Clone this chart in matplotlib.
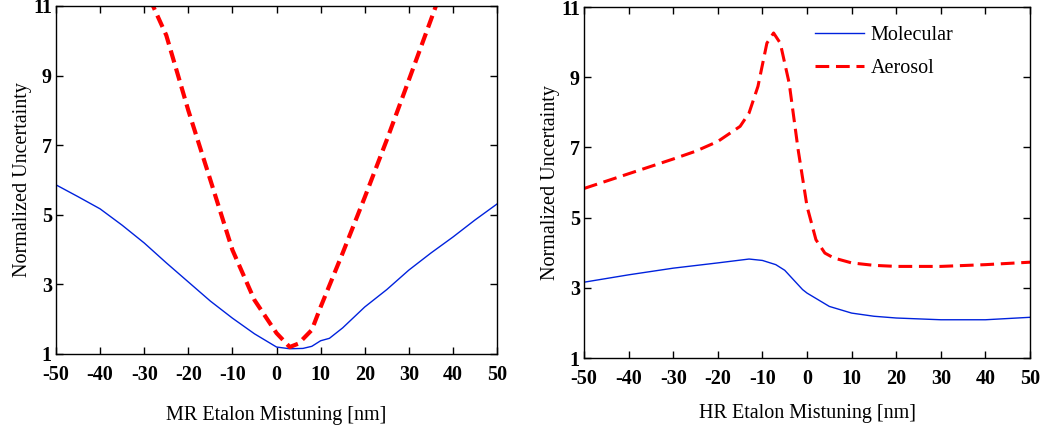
import matplotlib
matplotlib.use("Agg")
import matplotlib.pyplot as plt

plt.rcParams['font.family'] = ['Liberation Serif', 'DejaVu Serif']
plt.rcParams['mathtext.default'] = 'regular'

# Left panel: MR etalon mistuning
mr_mol_x = [-50, -45, -40, -35, -30, -25, -20, -15, -10, -5, 0, 3, 6, 8, 10, 12, 15, 20, 25, 30, 35, 40, 45, 50]
mr_mol_y = [5.86, 5.52, 5.17, 4.70, 4.19, 3.62, 3.07, 2.52, 2.03, 1.58, 1.20, 1.15, 1.16, 1.22, 1.38, 1.45, 1.75, 2.35, 2.85, 3.41, 3.90, 4.36, 4.85, 5.31]
mr_aer_x = [-31, -28, -25, -20, -15, -10, -5, 0, 3, 5, 8, 10, 15, 20, 25, 30, 35, 37]
mr_aer_y = [11.6, 11.0, 10.16, 8.0, 6.0, 3.99, 2.55, 1.6, 1.2, 1.3, 1.69, 2.35, 3.9, 5.5, 7.15, 8.87, 10.6, 11.3]

# Right panel: HR etalon mistuning
hr_mol_x = [-50, -40, -30, -20, -13, -10, -7, -5, -1, 0, 5, 10, 15, 20, 30, 40, 50]
hr_mol_y = [3.16, 3.37, 3.56, 3.71, 3.82, 3.78, 3.66, 3.50, 2.95, 2.85, 2.47, 2.28, 2.19, 2.14, 2.09, 2.09, 2.16]
hr_aer_x = [-50, -40, -30, -25, -20, -15, -13, -11, -9, -7.5, -6, -4, -2, 0, 2, 4, 6, 10, 15, 20, 30, 40, 50]
hr_aer_y = [5.83, 6.25, 6.67, 6.89, 7.17, 7.60, 7.98, 8.74, 9.97, 10.26, 9.97, 8.83, 6.94, 5.32, 4.37, 3.99, 3.85, 3.71, 3.64, 3.61, 3.61, 3.66, 3.73]

xticks = [-50, -40, -30, -20, -10, 0, 10, 20, 30, 40, 50]
yticks = [1, 3, 5, 7, 9, 11]
xticklabels = ['-50', '-40', '-30', '-20', '-10', '0', '10', '20', '30', '40', '50']

fig = plt.figure(figsize=(10.47, 4.25), dpi=100)
ax1 = fig.add_axes([0.0535, 0.1671, 0.4212, 0.8188])
ax2 = fig.add_axes([0.5578, 0.1576, 0.4260, 0.8259])

TFS = 14.5
LFS = 14.5

def style(ax, xlabel, lpad):
    ax.set_xlim(-50, 50)
    ax.set_ylim(1, 11)
    ax.set_xticks(xticks)
    ax.set_xticklabels(xticklabels, fontweight='bold')
    ax.set_yticks(yticks)
    ax.set_yticklabels([str(v) for v in yticks], fontweight='bold')
    ax.tick_params(direction='in', top=True, right=True, length=5, width=1,
                   labelsize=TFS)
    ax.tick_params(axis='x', pad=8)
    ax.tick_params(axis='y', pad=3)
    for s in ax.spines.values():
        s.set_linewidth(1.0)
    ax.set_xlabel(xlabel, fontsize=LFS, labelpad=lpad)
    ax.set_ylabel('Normalized Uncertainty', fontsize=LFS, labelpad=1)

ax1.plot(mr_mol_x, mr_mol_y, color='#0022dd', lw=1.0, label='Molecular')
ax1.plot(mr_aer_x, mr_aer_y, color='#ff0000', lw=3.0, dashes=(3, 1.5), label='Aerosol')
style(ax1, 'MR Etalon Mistuning [nm]', 15)

ax2.plot(hr_mol_x, hr_mol_y, color='#0022dd', lw=1.0, label='Molecular')
ax2.plot(hr_aer_x, hr_aer_y, color='#ff0000', lw=2.2, dashes=(4.5, 2.2), label='Aerosol')
style(ax2, 'HR Etalon Mistuning [nm]', 11)
ax2.legend(loc='upper left', bbox_to_anchor=(0.478, 0.999), frameon=False,
           prop={'size': LFS}, handlelength=2.4, handletextpad=0.35, labelspacing=0.7)

fig.savefig('out.png', dpi=100)
